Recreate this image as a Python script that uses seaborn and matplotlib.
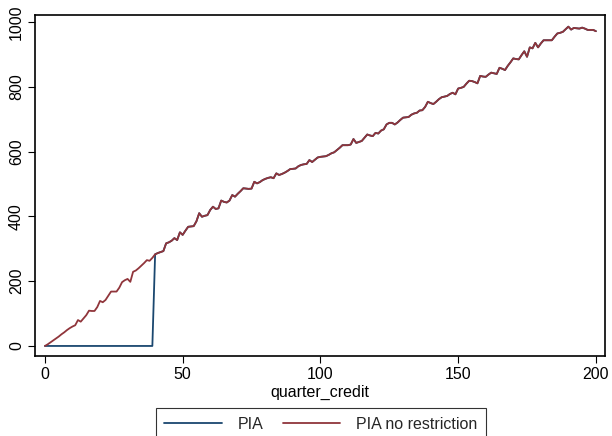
import numpy as np
import pandas as pd
import matplotlib
matplotlib.use("Agg")
import matplotlib.pyplot as plt
import seaborn as sns
from matplotlib.lines import Line2D

quarter_credit = list(range(0, 201))

pia_no_restriction = [
    0, 5, 11, 17, 23, 29, 36, 42, 49, 55,
    60, 64, 80, 75, 85, 95, 109, 108, 108, 120,
    139, 135, 142, 155, 168, 168, 168, 180, 197, 203,
    207, 198, 229, 233, 240, 248, 256, 265, 263, 272,
    283, 287, 290, 293, 317, 320, 325, 333, 327, 351,
    343, 356, 368, 369, 370, 385, 410, 399, 402, 404,
    420, 430, 423, 425, 449, 445, 443, 449, 466, 461,
    470, 478, 487, 486, 485, 486, 507, 502, 506, 512,
    516, 519, 521, 518, 533, 528, 531, 535, 540, 546,
    547, 548, 555, 559, 561, 562, 574, 568, 575, 582,
    584, 585, 586, 590, 595, 598, 605, 612, 620, 620,
    620, 622, 639, 627, 630, 633, 643, 653, 650, 648,
    658, 656, 665, 669, 684, 689, 689, 684, 690, 698,
    705, 706, 707, 714, 718, 720, 727, 728, 738, 754,
    750, 747, 754, 762, 768, 770, 772, 778, 782, 777,
    795, 797, 800, 810, 819, 818, 815, 811, 834, 832,
    831, 838, 844, 842, 840, 859, 856, 852, 865, 876,
    888, 886, 885, 898, 910, 893, 922, 919, 936, 922,
    934, 944, 944, 944, 944, 955, 965, 967, 970, 978,
    986, 977, 982, 981, 980, 983, 980, 976, 976, 976,
    972,
]

pia = [0] * 40 + pia_no_restriction[40:]

series_names = ["PIA", "PIA no restriction"]
colors = ["#1a476f", "#90353b"]

df = pd.DataFrame({
    "quarter_credit": quarter_credit * 2,
    "value": pia + pia_no_restriction,
    "series": [series_names[0]] * len(pia) + [series_names[1]] * len(pia_no_restriction),
})

sns.set_theme(style="white")
plt.rcParams["font.family"] = ["Liberation Sans", "DejaVu Sans"]

fig = plt.figure(figsize=(6.12, 4.36), dpi=100)
ax = fig.add_axes([35 / 612, 1 - 356 / 436, (605 - 35) / 612, (356 - 15) / 436])

sns.lineplot(data=df, x="quarter_credit", y="value", hue="series",
             palette=dict(zip(series_names, colors)), linewidth=1.3,
             ax=ax, legend=False, estimator=None)

ax.set_xlim(-3.6, 203.3)
ax.set_ylim(-31, 1022)
ax.set_xticks([0, 50, 100, 150, 200])
ax.set_yticks([0, 200, 400, 600, 800, 1000])
ax.set_yticklabels(["0", "200", "400", "600", "800", "1000"], rotation=90, va="center")
ax.tick_params(axis="both", which="major", direction="out", length=5, width=0.8,
               color="black", labelsize=11.5, labelcolor="black", pad=3,
               bottom=True, left=True)
ax.set_xlabel("quarter_credit", fontsize=11.5, color="black", labelpad=2)
ax.set_ylabel("")
for s in ax.spines.values():
    s.set_color("black")
    s.set_linewidth(1.2)

handles = [Line2D([0], [0], color=c, lw=1.3) for c in colors]
leg = fig.legend(handles, series_names, loc="upper center",
                 bbox_to_anchor=(321 / 612, 1 - 408 / 436), ncol=2,
                 frameon=True, fancybox=False, fontsize=11.5,
                 handlelength=3.6, handletextpad=1.0, columnspacing=1.2,
                 borderpad=0.55, borderaxespad=0)
leg.get_frame().set_edgecolor("black")
leg.get_frame().set_linewidth(0.8)

fig.savefig("out.png", dpi=100, facecolor="white")
